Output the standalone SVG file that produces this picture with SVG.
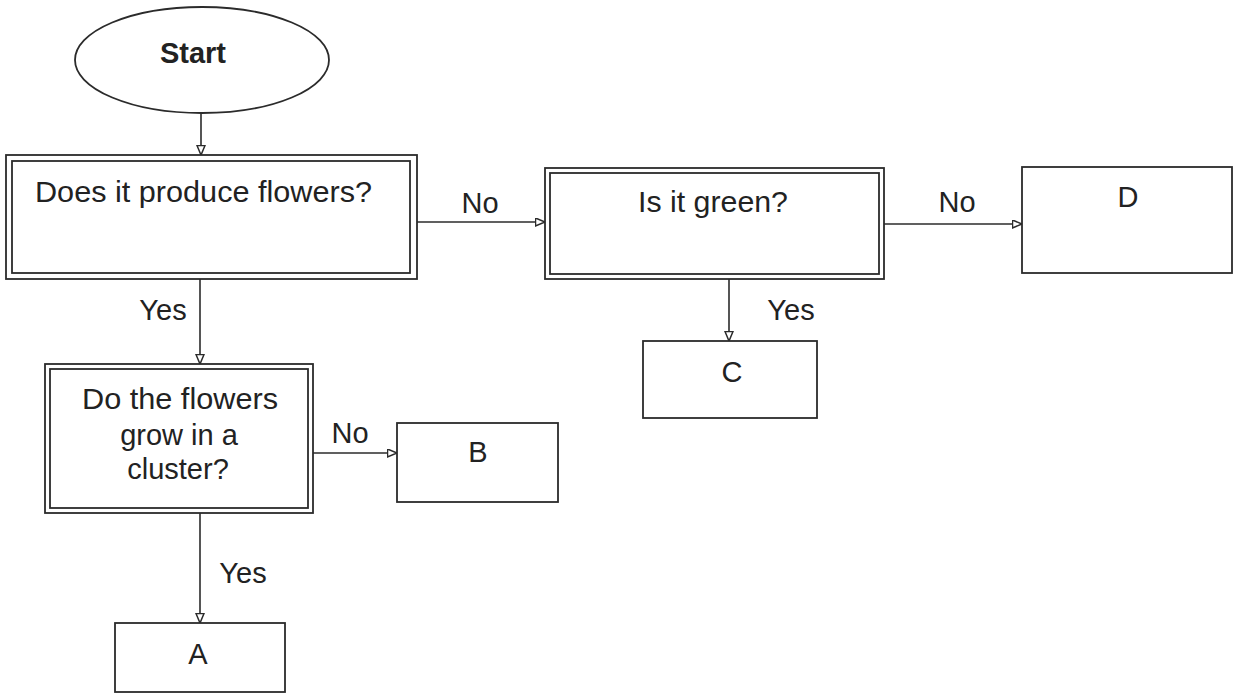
<svg xmlns="http://www.w3.org/2000/svg" width="1236" height="695" viewBox="0 0 1236 695">
  <style>
    .box { fill: #ffffff; stroke: #2b2b2b; stroke-width: 1.8; }
    .inner { fill: none; stroke: #2b2b2b; stroke-width: 1.8; }
    .conn { fill: none; stroke: #2b2b2b; stroke-width: 1.6; marker-end: url(#arrow); }
    .t { font-family: "Liberation Sans", Arial, sans-serif; font-size: 29px; fill: #222222; }
    .mid { text-anchor: middle; }
    .bold { font-weight: bold; }
  </style>
  <defs>
    <marker id="arrow" markerUnits="userSpaceOnUse" markerWidth="12" markerHeight="10" refX="10" refY="4.5" orient="auto">
      <path d="M0.5,0.5 L10,4.5 L0.5,8.5 z" fill="#ffffff" stroke="#2b2b2b" stroke-width="1.5"/>
    </marker>
  </defs>
  <rect width="1236" height="695" fill="#ffffff"/>

  <g id="connectors">
    <line class="conn" x1="201" y1="113" x2="201" y2="155"/>
    <line class="conn" x1="200" y1="279" x2="200" y2="364"/>
    <line class="conn" x1="200" y1="513" x2="200" y2="623"/>
    <line class="conn" x1="417" y1="222" x2="545" y2="222"/>
    <line class="conn" x1="729" y1="279" x2="729" y2="341"/>
    <line class="conn" x1="884" y1="224" x2="1022" y2="224"/>
    <line class="conn" x1="313" y1="453" x2="397" y2="453"/>
    <text class="t mid" x="480" y="213">No</text>
    <text class="t mid" x="957" y="212">No</text>
    <text class="t mid" x="791" y="320">Yes</text>
    <text class="t mid" x="163" y="320">Yes</text>
    <text class="t mid" x="350" y="443">No</text>
    <text class="t mid" x="243" y="583">Yes</text>
  </g>

  <g id="start">
    <ellipse class="box" cx="202" cy="60" rx="127" ry="53"/>
    <text class="t mid bold" x="193" y="63">Start</text>
  </g>

  <g id="q-flowers">
    <rect class="box" x="6" y="155" width="411" height="124"/>
    <rect class="inner" x="12" y="161" width="398" height="112"/>
    <text class="t" x="35" y="202" textLength="337" lengthAdjust="spacingAndGlyphs">Does it produce flowers?</text>
  </g>

  <g id="q-green">
    <rect class="box" x="545" y="168" width="339" height="111"/>
    <rect class="inner" x="550" y="173" width="329" height="101"/>
    <text class="t" x="638" y="212" textLength="150" lengthAdjust="spacingAndGlyphs">Is it green?</text>
  </g>

  <g id="q-cluster">
    <rect class="box" x="45" y="364" width="268" height="149"/>
    <rect class="inner" x="50" y="369" width="258" height="139"/>
    <text class="t" x="82" y="409" textLength="196" lengthAdjust="spacingAndGlyphs">Do the flowers</text>
    <text class="t mid" x="179" y="445">grow in a</text>
    <text class="t mid" x="178" y="479">cluster?</text>
  </g>

  <g id="d">
    <rect class="box" x="1022" y="167" width="210" height="106"/>
    <text class="t mid" x="1128" y="207">D</text>
  </g>

  <g id="c">
    <rect class="box" x="643" y="341" width="174" height="77"/>
    <text class="t mid" x="732" y="382">C</text>
  </g>

  <g id="b">
    <rect class="box" x="397" y="423" width="161" height="79"/>
    <text class="t mid" x="478" y="462">B</text>
  </g>

  <g id="a">
    <rect class="box" x="115" y="623" width="170" height="69"/>
    <text class="t mid" x="198" y="664">A</text>
  </g>
</svg>
